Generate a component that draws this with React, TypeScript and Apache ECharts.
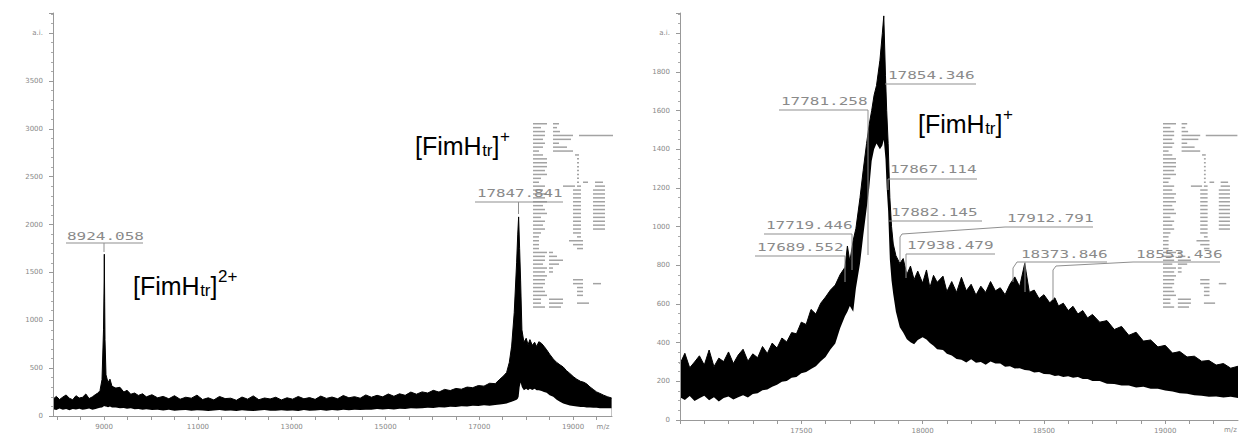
import React, { useEffect, useRef } from 'react';
import * as echarts from 'echarts';

// ---------- LEFT SPECTRUM (full range): [m/z, upper edge of noise band, lower edge] ----------
const leftBaseline: number[][] = [
  [7910, 175, 70], [7980, 205, 62], [8050, 172, 78], [8120, 198, 66], [8190, 220, 72], [8260, 185, 60],
  [8330, 170, 74], [8400, 212, 68], [8470, 188, 76], [8540, 196, 64], [8610, 230, 70], [8680, 182, 78],
  [8750, 200, 66], [8820, 226, 74], [8870, 240, 80], [8912, 265, 85],
];
const leftDoublyCharged: number[][] = [
  [8955, 380, 90], [8987, 900, 100], [9000, 1400, 105], [9004, 1690, 110], [9012, 1200, 105], [9019, 800, 100],
  [9040, 430, 100], [9083, 350, 92], [9125, 385, 98], [9168, 310, 88], [9250, 292, 90], [9338, 300, 80],
  [9420, 250, 84], [9488, 268, 76], [9570, 228, 80], [9650, 240, 70], [9730, 215, 74], [9820, 232, 66], [9900, 200, 70],
];
const leftMiddle: number[][] = [
  [10020, 222, 62], [10140, 190, 66], [10260, 205, 58], [10380, 180, 64], [10500, 212, 56], [10620, 175, 60],
  [10740, 196, 62], [10860, 186, 54], [10980, 218, 60], [11100, 172, 58], [11220, 190, 52], [11340, 168, 58],
  [11460, 204, 62], [11580, 182, 54], [11700, 186, 58], [11820, 164, 52], [11940, 198, 60], [12060, 176, 56],
  [12180, 210, 52], [12300, 170, 58], [12420, 188, 62], [12540, 178, 54], [12660, 196, 56], [12780, 168, 60],
  [12900, 190, 54], [13020, 176, 58], [13140, 204, 52], [13260, 180, 62], [13380, 192, 56], [13500, 174, 58],
  [13620, 208, 62], [13740, 184, 56], [13860, 198, 62], [13980, 180, 58], [14100, 214, 64], [14220, 190, 60],
  [14340, 202, 66], [14460, 186, 62], [14580, 220, 66], [14700, 196, 64], [14820, 216, 72], [14940, 200, 68],
  [15060, 230, 72], [15180, 206, 68], [15300, 232, 76], [15420, 216, 74], [15540, 250, 82], [15660, 228, 78],
  [15780, 252, 82], [15900, 240, 86], [16020, 268, 84], [16140, 250, 92], [16260, 278, 88], [16380, 266, 96],
  [16500, 288, 94], [16620, 280, 102], [16740, 302, 98], [16860, 296, 106], [16980, 318, 104], [17100, 312, 112],
  [17220, 342, 108], [17340, 338, 116],
];
const leftSinglyCharged: number[][] = [
  [17440, 385, 120], [17520, 420, 125], [17583, 455, 130], [17640, 560, 140], [17690, 730, 150], [17745, 1080, 160],
  [17796, 1600, 170], [17820, 1900, 180], [17839, 2080, 200], [17860, 1750, 300], [17881, 1420, 350], [17909, 900, 300],
  [17952, 770, 270], [18000, 812, 285], [18040, 745, 270], [18080, 798, 285], [18130, 738, 272], [18180, 770, 285],
  [18223, 726, 270], [18270, 776, 268], [18329, 758, 262], [18380, 728, 250], [18436, 692, 242], [18500, 646, 218],
  [18577, 596, 200], [18650, 560, 170], [18720, 535, 150], [18790, 512, 130], [18860, 474, 120], [18930, 445, 110],
  [19003, 412, 105], [19080, 384, 100], [19160, 362, 95], [19230, 352, 95], [19289, 336, 90], [19360, 304, 90],
  [19430, 278, 85], [19500, 252, 85], [19573, 236, 80], [19650, 218, 80], [19730, 202, 80], [19822, 188, 80],
];

// ---------- RIGHT SPECTRUM (zoom on the [FimHtr]+ peak): [m/z, upper, lower] ----------
const rightRise: number[][] = [
  [17000, 290, 118], [17020, 345, 104], [17040, 270, 124], [17060, 300, 98], [17080, 332, 112], [17100, 284, 126],
  [17120, 362, 102], [17140, 276, 118], [17160, 320, 96], [17180, 302, 114], [17200, 352, 122], [17220, 292, 106],
  [17240, 336, 118], [17260, 366, 128], [17280, 304, 116], [17300, 342, 134], [17320, 322, 138], [17340, 380, 154],
  [17360, 344, 158], [17380, 398, 172], [17400, 372, 182], [17420, 424, 198], [17440, 404, 202], [17460, 452, 218],
  [17480, 446, 222], [17500, 506, 242], [17520, 494, 248], [17540, 572, 264], [17560, 548, 278], [17580, 604, 304],
  [17600, 636, 326], [17620, 672, 364], [17640, 698, 396], [17660, 752, 474], [17680, 790, 536], [17690, 900, 560],
  [17700, 820, 590], [17714, 930, 560], [17725, 990, 680], [17742, 1150, 810], [17755, 1290, 950], [17769, 1430, 1090],
  [17780, 1530, 1200], [17790, 1600, 1340], [17800, 1680, 1400], [17810, 1730, 1430], [17824, 1860, 1400],
  [17834, 2000, 1420], [17840, 2090, 1450],
];
const rightFall: number[][] = [
  [17847, 1780, 1350], [17852, 1600, 1200], [17858, 1430, 1080], [17865, 1150, 830], [17872, 1000, 720],
  [17879, 910, 650], [17890, 850, 560], [17906, 810, 480], [17920, 835, 452], [17935, 752, 418], [17950, 796, 402],
  [17965, 726, 392], [17980, 770, 414], [18000, 708, 428], [18016, 776, 416], [18030, 684, 398], [18045, 748, 384],
  [18060, 712, 366], [18084, 744, 362], [18100, 664, 342], [18120, 716, 334], [18140, 660, 316], [18160, 738, 312],
  [18180, 668, 298], [18200, 702, 314], [18220, 646, 296], [18240, 692, 300], [18260, 660, 286], [18280, 716, 302],
  [18300, 668, 292], [18320, 684, 292], [18340, 648, 276], [18360, 702, 278], [18380, 740, 266], [18400, 690, 268],
  [18421, 810, 258], [18440, 660, 256], [18460, 672, 246], [18480, 628, 248], [18500, 648, 238], [18524, 606, 236],
  [18545, 632, 228], [18560, 590, 230], [18580, 604, 222], [18600, 566, 226], [18620, 588, 218], [18640, 548, 222],
  [18660, 566, 212], [18680, 528, 212], [18700, 546, 202], [18730, 506, 202], [18760, 514, 188], [18790, 468, 186],
  [18820, 484, 178], [18850, 438, 178], [18880, 454, 168], [18910, 408, 172], [18940, 414, 162], [18970, 378, 162],
  [19000, 386, 152], [19030, 346, 148], [19060, 354, 138], [19090, 326, 136], [19120, 330, 128], [19150, 304, 126],
  [19180, 308, 120], [19210, 284, 122], [19240, 292, 116], [19270, 268, 120], [19300, 278, 114],
];

// ---------- AXIS TICKS / LABELS ----------
const leftXTicks = [8000, 8500, 9000, 9500, 10000, 10500, 11000, 11500, 12000, 12500, 13000, 13500, 14000, 14500, 15000, 15500, 16000, 16500, 17000, 17500, 18000, 18500, 19000, 19500];
const leftXLabels = [9000, 11000, 13000, 15000, 17000, 19000];
const rightXTicks = [17000, 17100, 17200, 17300, 17400, 17500, 17600, 17700, 17800, 17900, 18000, 18100, 18200, 18300, 18400, 18500, 18600, 18700, 18800, 18900, 19000, 19100, 19200];
const rightXLabels = [17500, 18000, 18500, 19000];
const leftYTop = 4000;
const rightYTop = 2000;

// ---------- TEXT ----------
const leftPeakLabels = ['8924.058', '17847.841'];
const rightPeakLabels = ['17854.346', '17781.258', '17867.114', '17882.145', '17912.791', '17938.479', '17719.446', '17689.552', '18373.846', '18553.436'];
const ionName = '[FimH';
const ionSub = 'tr';
const ionClose = ']';
const chargeDouble = '2+';
const chargeSingle = '+';
const axisUnit = 'm/z';
const intensityUnit = 'a.i.';

// layout of peak labels (positions only)
const leftLabelLayout = [
  { x: 67, y: 237, sx: 1.6, lines: [[[66, 243], [143, 243]], [[104, 243], [104, 252]]] },
  { x: 477, y: 194, sx: 1.58, lines: [[[475, 202], [563, 202]], [[518.5, 202], [518.5, 214]]] },
];
const rightLabelLayout = [
  { x: 888, y: 76, lines: [[[885, 84], [976, 84]]] },
  { x: 781, y: 102, lines: [[[779, 110], [868, 110], [868, 255]]] },
  { x: 890, y: 170, lines: [[[888, 179], [977, 179]], [[888, 179], [888, 190]]] },
  { x: 891, y: 213, lines: [[[889, 221], [982, 221]]] },
  { x: 1007, y: 219, lines: [[[1093, 227], [1005, 227], [902, 234], [900, 237], [900, 262]]] },
  { x: 907, y: 246, lines: [[[995, 254], [906, 254], [906, 278]]] },
  { x: 766, y: 226, lines: [[[764, 234], [852, 234], [852, 270]]] },
  { x: 757, y: 248, lines: [[[755, 256], [845, 256], [845, 282]]] },
  { x: 1021, y: 255, lines: [[[1107, 262], [1017, 262], [1013, 268], [1013, 282]], [[1025, 262], [1025, 292]]] },
  { x: 1136, y: 255, lines: [[[1220, 262], [1133, 262], [1056, 266], [1053, 270], [1053, 300]]] },
];

// instrument parameter printout (illegible) drawn as small bars
const infoRows = [
  [[0, 14], [20, 26]], [[0, 8], [20, 24]], [[0, 12], [20, 27]], [[0, 12], [20, 40], [46, 80]], [[0, 10], [20, 38]],
  [[0, 12], [20, 26]], [[0, 10], [20, 34]], [[0, 6], [20, 40]], [[0, 10], [42, 46]], [[0, 14], [44, 46]],
  [[0, 14], [44, 46]], [[0, 14], [44, 46]], [[0, 12], [44, 46]], [[0, 14], [44, 46]], [[0, 8], [44, 46]],
  [[0, 6], [44, 46], [50, 55], [62, 70]], [[0, 12], [30, 42], [44, 48], [62, 72]], [[0, 10], [40, 48], [60, 72]],
  [[0, 14], [40, 48], [60, 72]], [[0, 12], [40, 48], [60, 72]], [[0, 14], [40, 48], [60, 72]], [[0, 10], [40, 48], [60, 72]],
  [[0, 12], [40, 48], [60, 72]], [[0, 14], [40, 48], [60, 72]], [[0, 8], [40, 48], [60, 72]], [[0, 12], [40, 48], [60, 72]],
  [[0, 10], [40, 48], [60, 72]], [[0, 12], [40, 48], [60, 72]], [[0, 8], [40, 48]], [[0, 6], [44, 48]], [[0, 6], [36, 50]],
  [[0, 6], [40, 50]], [[0, 6], [44, 50]], [[0, 14], [16, 20]], [[0, 12], [16, 24]], [[0, 12], [16, 30]], [[0, 10], [16, 26]],
  [[0, 14], [16, 20]], [[0, 12], [16, 20]], [[0, 14]], [[0, 12], [40, 50]], [[0, 12], [40, 50], [60, 68]], [[0, 10], [44, 50]],
  [[0, 12], [44, 50]], [[0, 14], [44, 50]], [[0, 8], [16, 30]], [[0, 8], [16, 30], [44, 56]], [[0, 12], [16, 28]],
];

const LABEL_FONT = 'DejaVu Sans';
const MONO = 'DejaVu Sans Mono';
const SANS = 'Liberation Sans';

// black area under the upper edge, then white area under the lower edge => black noise band
function bandSeries(rows: number[][], idx: number) {
  return [
    {
      type: 'line', xAxisIndex: idx, yAxisIndex: idx, symbol: 'none', silent: true, z: 2,
      data: rows.map((r) => [r[0], r[1]]),
      lineStyle: { color: '#000', width: 1 }, areaStyle: { color: '#000', opacity: 1, origin: 'start' },
    },
    {
      type: 'line', xAxisIndex: idx, yAxisIndex: idx, symbol: 'none', silent: true, z: 3,
      data: rows.map((r) => [r[0], r[2]]),
      lineStyle: { width: 0, opacity: 0 }, areaStyle: { color: '#fff', opacity: 1, origin: 'start' },
    },
  ];
}

function xAxisCfg(idx: number, min: number, max: number, ticks: number[], labels: number[]) {
  return {
    type: 'value', gridIndex: idx, min, max, z: 10,
    axisLine: { show: true, lineStyle: { color: '#999', width: 1 } },
    axisTick: { show: true, customValues: ticks, length: 4, lineStyle: { color: '#999' } },
    axisLabel: { customValues: labels, formatter: (v: number) => String(v), fontSize: 7, color: '#888', margin: 7, fontFamily: LABEL_FONT },
    splitLine: { show: false },
  };
}

function yAxisCfg(idx: number, max: number, interval: number, split: number, top: number) {
  return {
    type: 'value', gridIndex: idx, min: 0, max, interval, z: 10,
    axisLine: { show: true, lineStyle: { color: '#999', width: 1 } },
    axisTick: { show: true, length: 4, lineStyle: { color: '#999' } },
    minorTick: { show: true, splitNumber: split, length: 2, lineStyle: { color: '#aaa' } },
    axisLabel: {
      formatter: (v: number) => (v === top ? intensityUnit : v % interval === 0 ? String(v) : ''),
      fontSize: 7, color: '#888', margin: 10, fontFamily: LABEL_FONT,
    },
    splitLine: { show: false },
  };
}

export default function App() {
  const ref = useRef<HTMLDivElement>(null);
  useEffect(() => {
    if (!ref.current) return;
    const chart = echarts.init(ref.current, undefined, { renderer: 'svg' });
    const canvas = document.createElement('canvas');
    const ctx = canvas.getContext('2d')!;
    const tw = (t: string, size: number) => { ctx.font = `${size}px "${SANS}"`; return ctx.measureText(t).width; };

    const graphics: any[] = [];
    const ion = (x: number, yc: number, charge: string) => {
      const big = 25, small = 17;
      let cx = x;
      graphics.push({ type: 'text', x: cx, y: yc, z: 50, style: { text: ionName, fontSize: big, fontFamily: SANS, fill: '#000', verticalAlign: 'middle', align: 'left' } });
      cx += tw(ionName, big);
      graphics.push({ type: 'text', x: cx + 0.5, y: yc + 4, z: 50, style: { text: ionSub, fontSize: small, fontFamily: SANS, fill: '#000', verticalAlign: 'middle', align: 'left' } });
      cx += tw(ionSub, small) + 0.5;
      graphics.push({ type: 'text', x: cx, y: yc, z: 50, style: { text: ionClose, fontSize: big, fontFamily: SANS, fill: '#000', verticalAlign: 'middle', align: 'left' } });
      cx += tw(ionClose, big);
      graphics.push({ type: 'text', x: cx + 0.5, y: yc - 10, z: 50, style: { text: charge, fontSize: small, fontFamily: SANS, fill: '#000', verticalAlign: 'middle', align: 'left' } });
    };
    ion(133, 286, chargeDouble);
    ion(415, 146, chargeSingle);
    ion(918, 124, chargeSingle);

    const peakLabel = (text: string, lay: any, sx: number) => {
      graphics.push({ type: 'text', x: lay.x, y: lay.y, scaleX: sx, z: 40, style: { text, fontSize: 10, fontFamily: MONO, fill: '#8a8a8a', verticalAlign: 'middle', align: 'left' } });
      lay.lines.forEach((pts: number[][]) => {
        graphics.push({ type: 'polyline', z: 40, shape: { points: pts }, style: { stroke: '#8f8f8f', lineWidth: 1, fill: null } });
      });
    };
    leftPeakLabels.forEach((t, i) => peakLabel(t, leftLabelLayout[i], leftLabelLayout[i].sx));
    rightPeakLabels.forEach((t, i) => peakLabel(t, rightLabelLayout[i], 1.6));

    const infoBlock = (ox: number, oy: number, sx: number) => {
      const children: any[] = [];
      infoRows.forEach((row, r) => {
        row.forEach(([a, b]) => {
          children.push({ type: 'rect', shape: { x: a, y: r * 3.9, width: b - a, height: 1.5 }, style: { fill: '#666', opacity: 0.6 } });
        });
      });
      graphics.push({ type: 'group', x: ox, y: oy, scaleX: sx, z: 60, children });
    };
    infoBlock(533, 123, 1);
    infoBlock(1163, 123, 0.93);

    graphics.push({ type: 'text', x: 603, y: 427, z: 40, style: { text: axisUnit, fontSize: 7, fontFamily: LABEL_FONT, fill: '#888', align: 'center', verticalAlign: 'middle' } });
    graphics.push({ type: 'text', x: 1224, y: 430, z: 40, style: { text: axisUnit, fontSize: 7, fontFamily: LABEL_FONT, fill: '#888', align: 'left', verticalAlign: 'middle' } });

    chart.setOption({
      animation: false,
      backgroundColor: '#fff',
      grid: [
        { left: 53, top: 13, width: 559, height: 403 },
        { left: 680, top: 13, width: 558, height: 407 },
      ],
      xAxis: [
        xAxisCfg(0, 7910, 19830, leftXTicks, leftXLabels),
        xAxisCfg(1, 17000, 19300, rightXTicks, rightXLabels),
      ],
      yAxis: [
        yAxisCfg(0, 4210, 500, 5, leftYTop),
        yAxisCfg(1, 2105, 200, 4, rightYTop),
      ],
      series: [
        ...bandSeries([...leftBaseline, ...leftDoublyCharged, ...leftMiddle, ...leftSinglyCharged], 0),
        ...bandSeries([...rightRise, ...rightFall], 1),
      ],
      graphic: graphics,
    });
    return () => chart.dispose();
  }, []);
  return <div ref={ref} style={{ position: 'absolute', left: 0, top: 0, width: 1240, height: 434, background: '#fff' }} />;
}
